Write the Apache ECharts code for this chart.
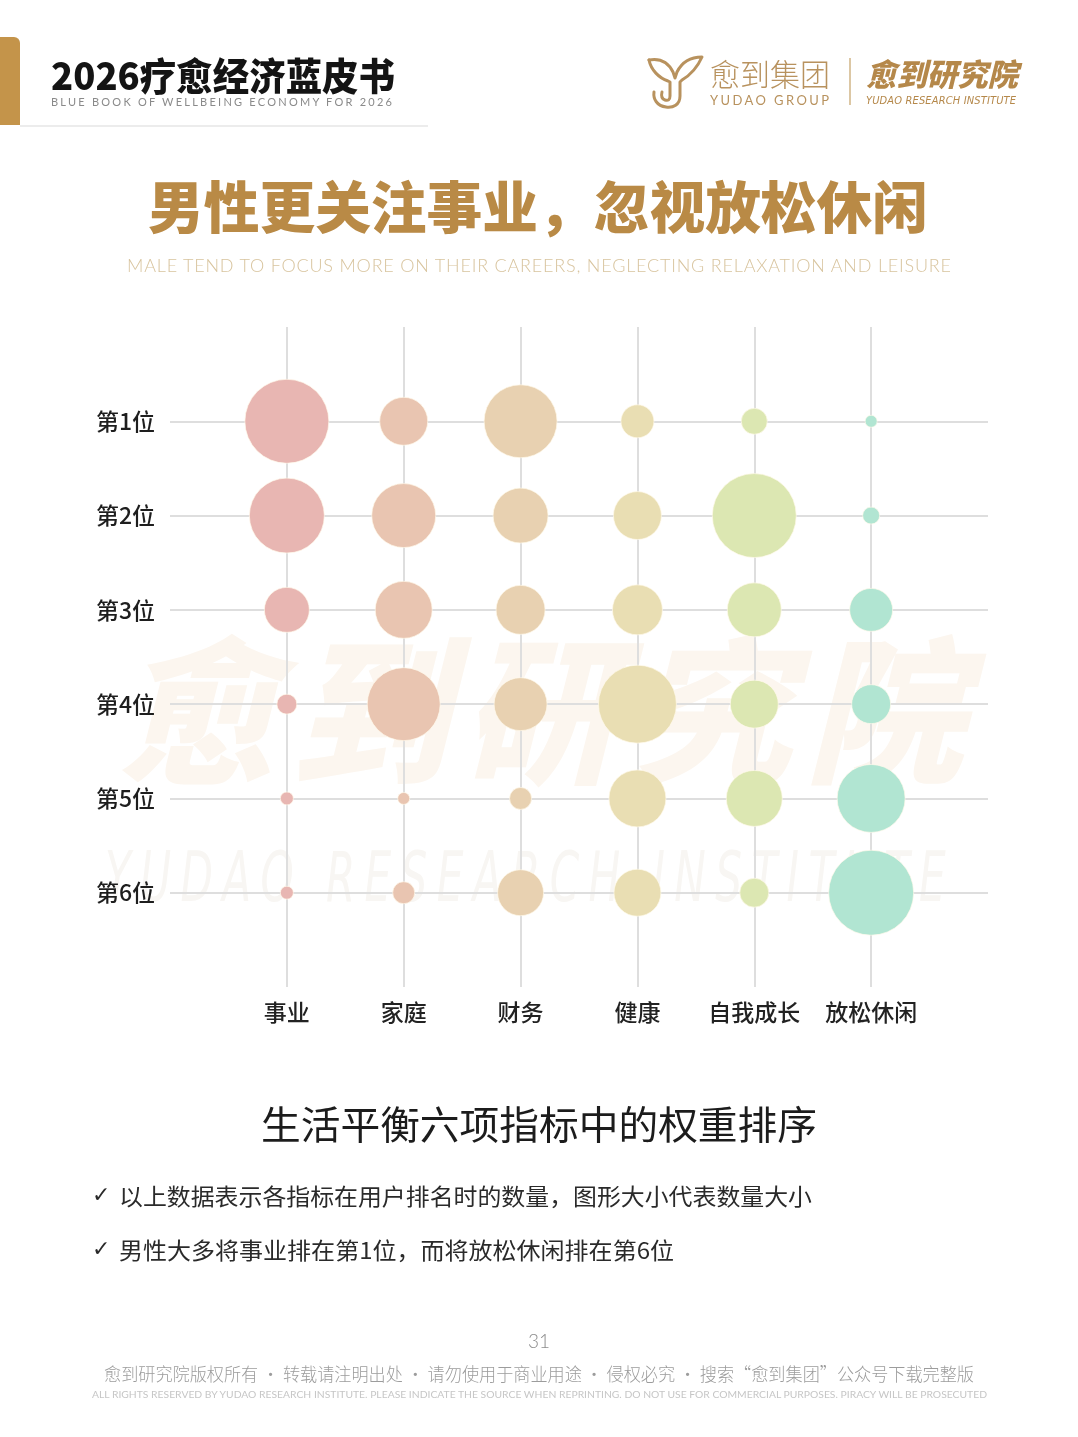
<!DOCTYPE html>
<html>
<head>
<meta charset="utf-8">
<script src="https://cdn.jsdelivr.net/npm/echarts@6/dist/echarts.min.js"></script>
<style>
html,body{margin:0;padding:0;background:#fff;}
#page{position:relative;width:1078px;height:1437px;overflow:hidden;background:#fff;font-family:"Noto Sans CJK SC","Noto Sans",sans-serif;}
.t{position:absolute;white-space:nowrap;line-height:1;}
#chart{position:absolute;left:0;top:0;width:1078px;height:1437px;z-index:2;}
.wm{z-index:0;}
.top{z-index:3;}
</style>
</head>
<body>
<div id="page">
  <!-- header -->
  <div class="top" style="position:absolute;left:0;top:37px;width:20px;height:88px;background:#c4944a;border-top-right-radius:6px;"></div>
  <div class="top" style="position:absolute;left:20px;top:125px;width:408px;height:2px;background:#ececec;"></div>
  <div class="t top" id="hTitle" data-x="51" data-w="344" data-mode="scale" style="top:55px;font-size:38px;font-weight:900;color:#141414;">2026疗愈经济蓝皮书</div>
  <div class="t top" id="hSub" data-x="51" data-w="341" data-mode="ls" style="top:96px;font-size:11px;color:#8a8a8a;font-family:'Lato','Noto Sans',sans-serif;">BLUE BOOK OF WELLBEING ECONOMY FOR 2026</div>

  <svg class="top" style="position:absolute;left:646px;top:52px;" width="60" height="58" viewBox="0 0 60 58">
    <path d="M3,8 C14,6 22,10 27,20 L29,26 L31,20 C36,10 44,5 56,5 C52,14 46,22 36,28 L34,30 L34,44 C34,53 27,56 20,55 C11,54 7,47 8,40" fill="none" stroke="#b8925e" stroke-width="3" stroke-linecap="round" stroke-linejoin="round"/>
    <path d="M3,8 C5,18 13,26 22,29 L24,30 L24,44 C24,48 22,49 19,48 C16,47 15,44 16,40" fill="none" stroke="#b8925e" stroke-width="3" stroke-linecap="round" stroke-linejoin="round"/>
  </svg>
  <div class="t top" id="lg1" data-x="710" data-w="120" data-mode="scale" style="top:57px;font-size:31px;font-weight:300;color:#b8925e;">愈到集团</div>
  <div class="t top" id="lg2" data-x="710" data-w="119" data-mode="ls" style="top:94px;font-size:13px;color:#b8925e;font-family:'Lato','Noto Sans',sans-serif;">YUDAO GROUP</div>
  <div class="top" style="position:absolute;left:849px;top:58px;width:2px;height:47px;background:#dcc7a4;"></div>
  <div class="t top" id="lg3" data-x="866" data-w="152" data-mode="scale" style="top:57px;font-size:31px;font-weight:900;color:#b5884a;font-style:italic;">愈到研究院</div>
  <div class="t top" id="lg4" data-x="866" data-w="150" data-mode="ls" style="top:95px;font-size:11px;color:#b5884a;font-style:italic;font-family:'DejaVu Sans Condensed','DejaVu Sans',sans-serif;">YUDAO RESEARCH INSTITUTE</div>

  <!-- titles -->
  <div class="t top" id="mTitle" data-x="148" data-w="780" data-mode="scale" style="top:176px;font-size:56px;font-weight:900;color:#b98a46;">男性更关注事业，忽视放松休闲</div>
  <div class="t top" id="mSub" data-x="127" data-w="824" data-mode="ls" style="top:256px;font-size:18px;font-weight:300;color:#d8c49e;font-family:'Lato','Noto Sans',sans-serif;">MALE TEND TO FOCUS MORE ON THEIR CAREERS, NEGLECTING RELAXATION AND LEISURE</div>

  <!-- watermark -->
  <div class="t wm" id="wm1" data-x="118" data-w="845" data-mode="ls" style="top:624px;font-size:158px;font-weight:900;color:#fcf6ef;font-style:italic;">愈到研究院</div>
  <div class="t wm" id="wm2" data-x="105" data-w="850" data-mode="lsscale" data-ls="14" style="top:842px;font-size:70px;font-weight:400;color:#f8f6f3;font-style:italic;font-family:'DejaVu Sans Condensed','DejaVu Sans',sans-serif;">YUDAO RESEARCH INSTITUTE</div>

  <!-- caption & notes -->
  <div class="t top" id="cap" data-x="261" data-w="556" data-mode="scale" style="top:1103px;font-size:39px;font-weight:400;color:#1c1c1c;">生活平衡六项指标中的权重排序</div>
  <div class="t top" style="left:92px;top:1184px;font-size:22px;color:#2a2a2a;font-family:'DejaVu Sans',sans-serif;">✓</div>
  <div class="t top" id="n1" data-x="119" data-w="693" data-mode="scale" style="top:1184px;font-size:23px;color:#2a2a2a;">以上数据表示各指标在用户排名时的数量，图形大小代表数量大小</div>
  <div class="t top" style="left:92px;top:1238px;font-size:22px;color:#2a2a2a;font-family:'DejaVu Sans',sans-serif;">✓</div>
  <div class="t top" id="n2" data-x="119" data-w="555" data-mode="scale" style="top:1238px;font-size:23px;color:#2a2a2a;">男性大多将事业排在第1位，而将放松休闲排在第6位</div>

  <!-- footer -->
  <div class="t top" style="left:0;width:1078px;text-align:center;top:1331px;font-size:19px;font-weight:300;color:#8c8c8c;font-family:'Lato','Noto Sans',sans-serif;">31</div>
  <div class="t top" id="f1" data-x="104" data-w="870" data-mode="scale" style="top:1364px;font-size:18px;font-weight:300;color:#9c9c9c;">愈到研究院版权所有 · 转载请注明出处 · 请勿使用于商业用途 · 侵权必究 · 搜索“愈到集团”公众号下载完整版</div>
  <div class="t top" id="f2" data-x="92" data-w="895" data-mode="scale" style="top:1390px;font-size:9.5px;color:#c6c6c6;font-family:'Lato','Noto Sans',sans-serif;">ALL RIGHTS RESERVED BY YUDAO RESEARCH INSTITUTE.  PLEASE INDICATE THE SOURCE WHEN REPRINTING. DO NOT USE FOR COMMERCIAL PURPOSES. PIRACY WILL BE PROSECUTED</div>

  <div id="chart"></div>
</div>
<script>
// ---- data ----
const categories = ['事业', '家庭', '财务', '健康', '自我成长', '放松休闲'];
const rankLabels = ['第1位', '第2位', '第3位', '第4位', '第5位', '第6位'];
// counts per rank (rows) for each category (columns); bubble size represents count
const rank1 = [84, 48, 73, 33, 26, 12];
const rank2 = [75, 64, 55, 48, 84, 17];
const rank3 = [45, 57, 49, 50, 54, 43];
const rank4 = [20, 73, 53, 78, 48, 39];
const rank5 = [13, 12, 22, 57, 56, 68];
const rank6 = [13, 22, 46, 47, 29, 85];
const ranks = [rank1, rank2, rank3, rank4, rank5, rank6];

// ---- styles ----
const catColors = ['#e8b6b2', '#e9c5b1', '#e8d1b1', '#e9deb3', '#dce7b2', '#b1e5d2'];

// fit text widths
document.querySelectorAll('[data-w]').forEach(el => {
  const x = +el.dataset.x, w = +el.dataset.w, mode = el.dataset.mode;
  el.style.left = x + 'px';
  if (mode === 'lsscale') el.style.letterSpacing = el.dataset.ls + 'px';
  const nat = el.getBoundingClientRect().width;
  if (mode === 'ls') {
    const n = el.textContent.length;
    const ls = (w - nat) / (n - 1);
    el.style.letterSpacing = ls + 'px';
  } else {
    el.style.transformOrigin = '0 0';
    el.style.transform = 'scaleX(' + (w / nat) + ')';
  }
});

const data = [];
ranks.forEach((row, r) => {
  row.forEach((v, c) => {
    data.push({
      value: [c + 1, r + 1, v],
      itemStyle: { color: catColors[c] }
    });
  });
});

const chart = echarts.init(document.getElementById('chart'), null, { renderer: 'canvas' });
chart.setOption({
  backgroundColor: 'transparent',
  animation: false,
  grid: { left: 170, right: 90, top: 327, bottom: 450, containLabel: false },
  xAxis: {
    type: 'value', min: 0, max: 7, interval: 1, position: 'bottom',
    axisLine: { show: false }, axisTick: { show: false },
    splitLine: { show: true, showMinLine: false, showMaxLine: false, lineStyle: { color: '#dedede', width: 2 } },
    axisLabel: {
      margin: 14, fontSize: 23, color: '#222', fontFamily: 'Noto Sans CJK SC', fontWeight: 500,
      formatter: v => categories[v - 1] || ''
    }
  },
  yAxis: {
    type: 'value', min: 0, max: 7, interval: 1, inverse: true,
    axisLine: { show: false }, axisTick: { show: false },
    splitLine: { show: true, showMinLine: false, showMaxLine: false, lineStyle: { color: '#dedede', width: 2 } },
    axisLabel: {
      margin: 15, fontSize: 23, color: '#1e1e1e', fontFamily: 'Noto Sans CJK SC', fontWeight: 500,
      formatter: v => rankLabels[v - 1] || ''
    }
  },
  series: [{
    type: 'scatter',
    data: data,
    symbol: 'circle',
    symbolSize: d => d[2],
    itemStyle: { opacity: 1, borderColor: 'rgba(255,250,235,0.7)', borderWidth: 1 }
  }]
});
</script>
</body>
</html>
